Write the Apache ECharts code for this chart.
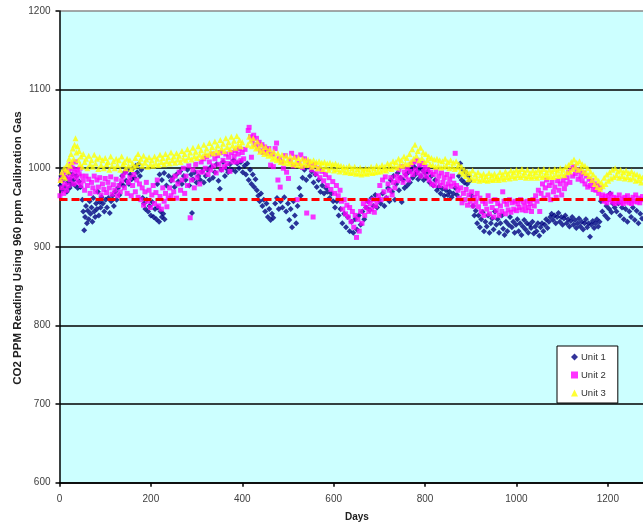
<!DOCTYPE html>
<html>
<head>
<meta charset="utf-8">
<script src="https://cdn.jsdelivr.net/npm/echarts@6/dist/echarts.min.js"></script>
<style>
html,body{margin:0;padding:0;background:#fff;}
#chart{width:643px;height:526px;}
</style>
</head>
<body>
<div id="chart"></div>
<script>
// ---- data ----
var seriesNames = ['Unit 1', 'Unit 2', 'Unit 3'];
var calibrationGas = 960;
var xTicks = [0, 200, 400, 600, 800, 1000, 1200];
var xVisibleMax = 1277;   // the reference picture is cut off at its right edge
var yTicks = [600, 700, 800, 900, 1000, 1100, 1200];
var yTitle = 'CO2 PPM Reading Using 960 ppm Calibration Gas';
var xTitle = 'Days';

var unit1 = [[2,978],[4,990],[6,972],[8,985],[10,998],[12,976],[14,988],[16,970],[18,982],[20,994],[22,975],[24,986],[26,980],[28,992],
[31,985],[34,978],[37,990],[40,975],[43,983],[46,976],
[50,960],[52,945],[54,921],[56,938],[58,952],[60,930],[62,946],[64,935],[66,958],[68,942],[70,950],[72,932],[74,962],[76,945],[78,938],[80,955],[82,948],[84,970],[86,940],[88,957],[90,950],[92,963],
[95,955],[98,945],[101,960],[104,950],[107,962],[110,943],[113,958],[116,965],[119,952],[122,970],[125,960],[128,975],[131,966],[134,980],
[137,990],[140,978],[143,995],[146,984],[149,998],[152,980],[155,992],[158,986],[161,1000],[164,988],[167,1003],[170,995],[173,1005],[176,990],[179,998],
[182,962],[185,955],[188,948],[191,960],[194,945],[197,952],[200,940],[203,957],[206,938],[209,948],[212,935],[215,950],[218,932],[221,945],[224,938],[227,942],[230,935],
[214,980],[219,992],[224,985],[229,994],[234,978],[239,990],[244,984],
[248,988],[252,976],[256,992],[260,983],[264,996],[268,980],[272,990],[276,985],[280,998],[284,978],[288,992],[290,943],[292,986],[296,995],[300,982],[304,990],[308,985],
[312,996],[316,982],[320,990],[324,998],[328,985],[332,1002],[336,988],[340,995],[344,1005],[348,984],[351,974],[354,998],[358,1008],[362,990],[365,1000],
[369,995],[373,1005],[377,998],[381,1010],[385,996],[389,1006],[393,1000],[397,1008],[401,995],
[405,1003],[408,992],[411,1006],[414,985],[417,998],[420,980],[423,992],[426,976],[429,986],
[432,972],[435,965],[438,958],[441,968],[444,952],[447,960],[450,945],[453,955],[456,938],[459,948],[462,934],[465,942],[468,937],
[472,955],[476,962],[480,948],[484,958],[488,950],[492,963],[496,945],[500,955],[503,934],[506,948],[509,925],[512,958],[515,940],[518,930],[521,952],
[525,975],[528,965],[532,988],[536,998],[540,985],[544,1002],[548,990],[552,996],[556,982],[560,992],[563,976],[567,985],[571,970],[575,978],[579,968],[583,975],[587,970],
[591,962],[595,968],[599,958],[603,950],[607,958],[611,940],[615,948],[619,930],[623,942],[627,925],[631,938],[635,920],[639,932],[643,918],[647,935],[651,922],[655,940],[659,928],[663,945],[667,935],
[671,950],[675,958],[679,947],[683,962],[687,952],[691,966],[695,950],[699,960],[703,955],[707,968],[711,952],[715,962],
[719,975],[722,958],[725,985],[728,970],[731,990],[734,960],[737,980],[740,994],[743,972],[746,988],[749,957],[752,985],[755,975],[758,992],[761,978],[764,995],[767,982],
[770,998],[773,988],[776,1002],[779,992],[782,996],[785,986],[788,1000],[791,990],[794,998],[797,985],[800,994],[803,988],[806,996],
[810,982],[814,990],[818,978],[822,985],[826,972],[830,976],[834,968],[838,974],[842,965],[846,972],[850,966],[854,970],[858,963],[862,968],[866,975],[870,966],
[874,990],[877,1006],[880,985],[883,998],[886,982],[889,995],[892,980],[895,990],[898,984],
[902,965],[905,952],[908,940],[911,946],[914,930],[917,940],[920,925],[923,935],[926,944],[929,920],[932,932],[935,926],[938,940],[941,918],[944,930],[947,936],[950,922],[953,945],[956,928],[959,935],[962,918],[965,930],[968,940],[971,923],[974,915],[977,932],[980,920],[983,928],[986,938],
[990,925],[993,932],[996,918],[999,928],[1002,935],[1005,920],[1008,930],[1011,915],[1014,926],[1017,934],[1020,922],[1023,930],[1026,918],[1029,928],[1032,924],[1035,932],[1038,917],[1041,926],[1044,920],[1047,930],[1050,914],[1053,925],[1056,930],[1059,920],[1062,928],[1065,935],[1068,924],[1071,932],
[1074,938],[1077,942],[1080,934],[1083,940],[1086,930],[1089,938],[1092,943],[1095,932],[1098,938],[1101,928],[1104,936],[1107,940],[1110,930],[1113,935],[1116,926],[1119,933],[1122,938],[1125,928],[1128,934],[1131,924],[1134,930],[1137,936],[1140,926],[1143,932],[1146,922],[1149,930],[1152,935],[1155,925],[1158,930],[1161,913],[1164,928],[1167,933],[1170,924],[1173,930],[1176,935],[1179,926],[1182,932],
[1185,958],[1188,945],[1191,960],[1194,940],[1197,952],[1200,936],[1203,948],[1205,968],[1208,944],[1211,955],
[1215,950],[1219,945],[1223,955],[1227,940],[1231,950],[1235,935],[1239,948],[1243,932],[1247,945],[1251,938],[1255,950],[1259,934],[1263,946],[1267,930],[1271,942],[1275,936]];

var unit2 = [[1,965],[3,985],[5,975],[7,992],[9,968],[11,980],[13,995],[15,972],[17,988],[19,978],
[21,998],[23,985],[25,1005],[27,990],[29,1000],[31,980],[33,995],[35,1008],[37,988],[39,998],[41,982],[43,993],[45,1000],[47,978],[49,990],
[52,984],[55,972],[58,990],[61,978],[64,986],[67,968],[70,982],[73,975],[76,990],[79,970],[82,985],[85,976],[88,988],[91,966],[94,980],[97,973],[100,987],[103,969],[106,982],[109,975],[112,989],[115,967],[118,979],[121,972],[124,986],[127,965],[130,978],[133,970],[136,984],
[139,990],[142,975],[145,995],[148,968],[151,982],[154,988],[157,965],[160,978],[163,992],[166,970],[169,985],[172,963],
[175,980],[178,960],[181,975],[184,953],[187,970],[190,982],[193,958],[196,972],[199,950],[202,966],[205,978],[208,955],[211,969],[214,985],[217,952],[220,964],[223,948],[226,975],[229,958],[232,968],[235,951],[238,962],
[241,975],[244,965],[247,985],[250,970],[253,990],[256,962],[259,980],[262,995],[265,972],[268,985],[271,1000],[274,968],[277,990],[280,978],[283,1003],[286,937],[289,985],[292,998],[295,975],[298,1005],[301,988],[304,995],[307,980],[310,1008],
[313,995],[316,1012],[319,1000],[322,1015],[325,992],[328,1008],[331,998],[334,1018],[337,1003],[340,1012],[343,994],[346,1016],[349,1005],[352,1020],[355,998],[358,1010],[361,1002],[364,1018],[367,1006],[370,1014],[373,996],[376,1020],[379,1008],
[382,1015],[385,1022],[388,1008],[391,1018],[394,1025],[397,1010],[400,1020],[403,1012],[406,1024],
[413,1048],[415,1052],[418,1040],[420,1014],[422,1036],[425,1042],[428,1030],[431,1038],[434,1026],[437,1033],[440,1022],[443,1030],[446,1020],[449,1027],[452,1024],[455,1019],[458,1025],
[462,1004],[466,1018],[468,1002],[472,1025],[475,1032],[478,985],[481,1012],[483,976],[486,1008],[490,1000],[494,1016],[497,995],[501,987],[505,1010],[508,1019],[512,1003],[516,1014],[520,960],[524,1006],[528,1017],[532,1001],[536,1012],[541,943],[544,1008],
[548,1003],[552,998],[555,938],[558,1005],[562,993],[566,1000],[570,988],[574,996],[578,984],[582,992],[586,978],[590,988],[594,973],[598,983],[602,968],[606,978],[610,965],[614,972],
[617,958],[620,948],[623,960],[626,942],[629,953],[632,938],[635,950],[638,932],[641,945],[644,925],[647,940],[650,912],[653,935],[656,920],[659,945],[662,930],[665,955],[668,940],
[671,950],[674,958],[677,945],[680,955],[683,948],[686,960],[689,944],[692,952],[695,958],
[698,965],[701,978],[704,960],[707,985],[710,970],[713,989],[716,962],[719,980],[722,972],[725,988],[728,966],[731,982],[734,975],[737,990],
[740,984],[743,998],[746,988],[749,1002],[752,982],[755,995],[758,990],[761,1000],[764,985],[767,996],
[770,1005],[773,992],[776,1008],[779,998],[782,1010],[785,994],[788,1004],[791,990],[794,1006],[797,996],[800,1002],[803,990],[806,998],
[809,985],[812,995],[815,980],[818,992],[821,978],[824,996],[827,984],[830,990],[833,978],[836,994],[839,982],[842,988],[845,976],[848,992],[851,980],[854,986],[857,977],[860,990],[863,981],[866,1019],[869,978],
[872,972],[875,962],[878,975],[881,956],[884,968],[887,960],[890,973],[893,953],[896,966],[899,958],[902,970],[905,952],[908,963],[911,957],[914,968],[917,951],
[920,962],[923,945],[926,958],[929,940],[932,955],[935,948],[938,965],[941,942],[944,958],[947,950],[950,938],[953,960],[956,946],[959,955],[962,940],[965,952],[968,945],[970,970],[973,958],[976,942],[979,954],[982,947],[985,960],[988,944],
[991,956],[994,948],[997,958],[1000,946],[1003,955],[1006,950],[1009,960],[1012,947],[1015,957],[1018,952],[1021,946],[1024,958],[1027,950],[1030,955],[1033,945],[1036,960],[1039,952],
[1042,965],[1045,958],[1048,972],[1051,945],[1054,968],[1057,980],[1060,962],[1063,975],[1066,985],[1069,966],[1072,978],[1075,960],[1078,982],[1081,970],[1084,976],[1087,963],[1090,984],[1093,972],[1096,980],[1099,966],[1102,985],[1105,974],[1108,980],
[1111,988],[1114,995],[1117,982],[1120,1000],[1123,990],[1126,1002],[1129,993],[1132,998],[1135,986],[1138,996],[1141,990],[1144,984],[1147,994],[1150,980],[1153,990],[1156,976],[1159,986],[1162,978],[1165,984],[1168,973],[1171,980],[1174,972],[1177,978],[1180,968],[1183,975],
[1186,962],[1189,966],[1192,958],[1195,964],[1198,956],[1201,965],[1204,960],[1207,967],[1210,957],[1213,963],[1216,955],[1219,962],[1222,958],[1225,966],[1228,956],[1231,961],[1234,955],[1237,963],[1240,958],[1243,965],[1246,956],[1249,960],[1252,955],[1255,963],[1258,958],[1261,966],[1264,957],[1267,962],[1270,956],[1273,960],[1276,964]];

var unit3 = [[2,985],[5,995],[8,990],[10,1000],[12,988],[14,998],[17,1005],[19,996],[21,1012],[23,1003],[25,1018],[27,1008],[29,1025],[31,1012],[33,1030],[35,1038],[37,1020],[39,1028],[41,1010],[43,1022],[45,1005],[47,1015],[50,1002],[52,1018],[55,1008],[58,1012],[61,1000],[64,1016],[67,1005],[70,1010],[73,1002],[76,1017],[79,1006],[82,1012],[85,999],[88,1014],[91,1004],[94,1010],[97,1000],[100,1013],[103,1005],[106,1008],[109,998],[112,1015],[115,1003],[118,1009],[121,1000],[124,1012],[127,1004],[130,1010],[133,998],[136,1015],[139,1005],[142,1008],[145,1000],[148,1012],[151,1003],[154,1010],[157,999],[160,1006],[163,1002],[166,1013],[169,1004],[172,1018],[175,1008],[178,1012],[181,1003],[184,1016],[187,1007],[190,1011],[193,1002],[196,1014],[199,1005],[202,1010],[205,1003],[208,1015],[211,1006],[214,1012],[217,1004],[220,1017],[223,1008],[226,1013],[229,1005],[232,1018],[235,1009],[238,1014],[241,1006],[244,1020],[247,1010],[250,1015],[253,1007],[256,1019],[259,1011],[262,1016],[265,1008],[268,1022],[271,1012],[274,1018],[277,1010],[280,1024],[283,1014],[286,1020],[289,1011],[292,1026],[295,1015],[298,1021],[301,1013],[304,1028],[307,1017],[310,1023],[313,1015],[316,1030],[319,1019],[322,1025],[325,1017],[328,1032],[331,1021],[334,1027],[337,1019],[340,1034],[343,1023],[346,1029],[349,1020],[352,1036],[355,1025],[358,1031],[361,1022],[364,1038],[367,1027],[370,1033],[373,1024],[376,1040],[379,1029],[382,1035],[385,1026],[388,1041],[391,1030],[394,1036],[397,1028],[400,1033],
[412,1030],[415,1040],[418,1035],[421,1028],[424,1038],[427,1030],[430,1025],[433,1034],[436,1026],[439,1021],[442,1030],[445,1023],[448,1018],[451,1027],[454,1020],[457,1016],[460,1024],[463,1017],[466,1012],[469,1021],[472,1014],[475,1010],[478,1019],[481,1012],[484,1008],[487,1017],[490,1011],[493,1007],[496,1016],[499,1010],[502,1006],[505,1015],[508,1009],[511,1005],[514,1014],[517,1008],[520,1004],[523,1013],[526,1007],[529,1003],[532,1012],[535,1006],[538,1010],[541,1004],[544,1011],[547,1005],[550,1009],[553,1002],[556,1010],[559,1004],[562,1008],[565,1000],[568,1009],[571,1003],[574,1007],[577,999],[580,1008],[583,1002],[586,1006],[589,998],[592,1007],[595,1001],[598,1005],[601,997],[604,1006],[607,999],[610,1004],[613,996],[616,1003],[619,998],[622,1002],[625,995],[628,1001],[631,996],[634,1003],[637,994],[640,1000],[643,995],[646,1002],[649,993],[652,999],[655,994],[658,1001],[661,992],[664,998],[667,994],[670,1000],[673,993],[676,999],[679,995],[682,1002],[685,994],[688,1000],[691,995],[694,1003],[697,996],[700,1001],[703,996],[706,1004],[709,998],[712,1002],[715,997],[718,1006],[721,1000],[724,1005],[727,999],[730,1009],[733,1002],[736,1008],[739,1001],[742,1012],[745,1004],[748,1010],[751,1003],[754,1015],[757,1006],[760,1013],[763,1005],[766,1018],[769,1008],[772,1024],[775,1012],[778,1030],[781,1016],[784,1022],[787,1010],[790,1026],[793,1013],[796,1020],[799,1008],[802,1018],[805,1010],[808,1015],[811,1005],[814,1013],[817,1004],[820,1011],[823,1002],[826,1012],[829,1003],[832,1010],[835,1001],[838,1009],[841,1002],[844,1012],[847,1003],[850,1008],[853,1000],[856,1010],[859,1002],[862,1007],[865,999],[868,1009],[871,1001],[874,1005],[877,996],[880,1002],[883,993],[886,998],[889,990],[892,996],[895,986],[898,994],[901,988],[904,997],[907,985],[910,992],[913,987],[916,995],[919,984],[922,991],[925,986],[928,993],[931,985],[934,990],[937,984],[940,994],[943,986],[946,991],[949,985],[952,993],[955,987],[958,990],[961,985],[964,995],[967,988],[970,992],[973,986],[976,996],[979,989],[982,993],[985,987],[988,997],[991,990],[994,995],[997,988],[1000,998],[1003,991],[1006,996],[1009,989],[1012,999],[1015,991],[1018,995],[1021,988],[1024,998],[1027,990],[1030,994],[1033,988],[1036,997],[1039,990],[1042,995],[1045,988],[1048,998],[1051,991],[1054,996],[1057,989],[1060,999],[1063,991],[1066,995],[1069,989],[1072,998],[1075,990],[1078,996],[1081,989],[1084,999],[1087,992],[1090,997],[1093,990],[1096,1000],[1099,993],[1102,998],[1105,991],[1108,1002],[1111,995],[1114,1004],[1117,996],[1120,1008],[1123,999],[1126,1011],[1129,1002],[1132,1007],[1135,998],[1138,1009],[1141,1000],[1144,1005],[1147,996],[1150,1003],[1153,994],[1156,1000],[1159,990],[1162,996],[1165,985],[1168,992],[1171,980],[1174,988],[1177,976],[1180,984],[1183,974],[1186,982],[1189,977],[1192,988],[1195,980],[1198,992],[1201,984],[1204,995],[1207,987],[1210,998],[1213,989],[1216,1000],[1219,991],[1222,996],[1225,988],[1228,998],[1231,990],[1234,995],[1237,987],[1240,997],[1243,989],[1246,994],[1249,986],[1252,996],[1255,988],[1258,993],[1261,984],[1264,992],[1267,985],[1270,990],[1273,982],[1276,988]];

// ---- chart ----
var FONT = '"Liberation Sans", Arial, sans-serif';
var chart = echarts.init(document.getElementById('chart'), null, {renderer: 'canvas'});
var option = {
  animation: false,
  backgroundColor: '#ffffff',
  grid: {
    left: 59.5, top: 11, bottom: 43.3, right: 0,
    show: true, backgroundColor: '#CCFFFF', borderWidth: 0
  },
  xAxis: {
    type: 'value',
    min: xTicks[0], max: xVisibleMax, interval: 200,
    axisLine: {show: true, onZero: false, lineStyle: {color: '#000', width: 1.5}},
    axisTick: {show: true, length: 4, lineStyle: {color: '#000', width: 1.5}},
    axisLabel: {color: '#404040', fontSize: 10, fontFamily: FONT, margin: 12,
      showMaxLabel: false, formatter: function (v) { return xTicks.indexOf(v) >= 0 ? String(v) : ''; }},
    splitLine: {show: false}
  },
  yAxis: {
    type: 'value',
    min: yTicks[0], max: yTicks[yTicks.length - 1], interval: 100,
    axisLine: {show: true, lineStyle: {color: '#000', width: 1.5}},
    axisTick: {show: true, length: 4, lineStyle: {color: '#000', width: 1.5}},
    axisLabel: {color: '#404040', fontSize: 10, fontFamily: FONT, margin: 9,
      formatter: function (v) { return String(v); }},
    splitLine: {show: true, lineStyle: {color: ['#000', '#000', '#000', '#000', '#000', '#000', '#8a8a8a'], width: 1.5}}
  },
  legend: {
    orient: 'vertical',
    left: 557, top: 346,
    padding: [6, 12, 5, 14],
    itemGap: 8, itemWidth: 7, itemHeight: 7,
    backgroundColor: '#ffffff', borderColor: '#000', borderWidth: 1, borderRadius: 0,
    textStyle: {color: '#303030', fontSize: 9.5, fontFamily: FONT, padding: [0, 0, 0, -2]},
    data: [
      {name: seriesNames[0], icon: 'diamond'},
      {name: seriesNames[1], icon: 'rect'},
      {name: seriesNames[2], icon: 'triangle'}
    ]
  },
  series: [
    {
      name: seriesNames[0], type: 'scatter', data: unit1,
      symbol: 'diamond', symbolSize: 6,
      itemStyle: {color: '#000080'}
    },
    {
      name: seriesNames[1], type: 'scatter', data: unit2,
      symbol: 'rect', symbolSize: 5,
      itemStyle: {color: '#FF00FF'}
    },
    {
      name: seriesNames[2], type: 'scatter', data: unit3,
      symbol: 'triangle', symbolSize: 6,
      itemStyle: {color: '#FFFF00'},
      markLine: {
        silent: true, symbol: ['none', 'none'], label: {show: false},
        lineStyle: {color: '#FF0000', width: 3, type: [8, 4]},
        data: [{yAxis: calibrationGas}]
      }
    }
  ],
  graphic: [
    {
      type: 'text', x: 18, y: 248, rotation: Math.PI / 2,
      style: {text: yTitle, fill: '#202020', font: 'bold 11.5px ' + FONT,
        textAlign: 'center', textVerticalAlign: 'middle'}
    },
    {
      type: 'text', left: 345, top: 512,
      style: {text: xTitle, fill: '#202020', font: 'bold 10px ' + FONT}
    }
  ]
};
chart.setOption(option);
</script>
</body>
</html>
